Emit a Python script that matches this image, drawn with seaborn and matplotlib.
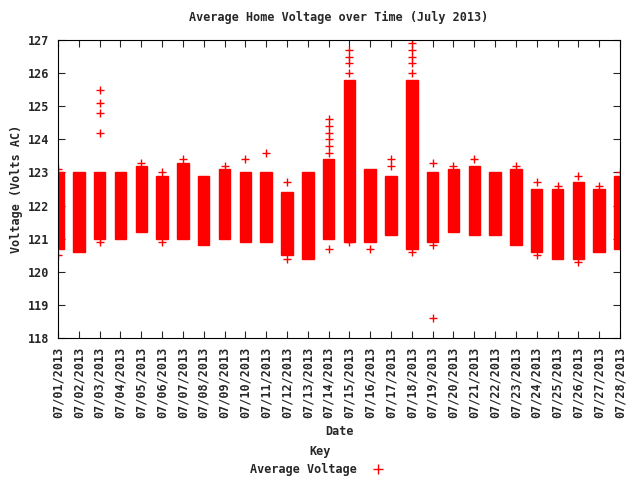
import matplotlib
matplotlib.use("Agg")
import matplotlib.pyplot as plt
import seaborn as sns
import pandas as pd
from matplotlib.lines import Line2D

dates = ["07/%02d/2013" % d for d in range(1, 29)]
low = [120.7,120.6,121.0,121.0,121.2,121.0,121.0,120.8,121.0,120.9,120.9,120.5,120.4,121.0,
       120.9,120.9,121.1,120.7,120.9,121.2,121.1,121.1,120.8,120.6,120.4,120.4,120.6,120.7]
high = [123.0,123.0,123.0,123.0,123.2,122.9,123.3,122.9,123.1,123.0,123.0,122.4,123.0,123.4,
        125.8,123.1,122.9,125.8,123.0,123.1,123.2,123.0,123.1,122.5,122.5,122.7,122.5,122.9]
out_day = [0,0,2,2,2,2,2,4,5,5,6,8,9,10,11,11,13,13,13,13,13,13,13,14,14,14,14,14,15,16,16,
           17,17,17,17,17,17,18,18,18,19,20,22,23,23,24,25,25,26,27]
out_val = [120.5,123.1,124.2,124.8,125.1,125.5,120.9,123.3,120.9,123.0,123.4,123.2,123.4,123.6,
           122.7,120.4,123.6,123.8,124.0,124.2,124.4,124.6,120.7,126.0,126.3,126.5,126.7,120.9,
           120.7,123.2,123.4,126.0,126.3,126.5,126.7,126.9,120.6,123.3,118.6,120.8,123.2,123.4,
           123.2,122.7,120.5,122.6,122.9,120.3,122.6,123.0]

sns.set_style("ticks")
fig = plt.figure(figsize=(6.4, 4.8), dpi=100)
ax = fig.add_axes([58/640, 1-338/480, 562/640, 298/480])
mono = "DejaVu Sans Mono"
fp = {"family": mono, "size": 8.5, "weight": "bold"}
x = list(range(len(dates)))
ax.bar(x, [h-l for h, l in zip(high, low)], bottom=low, width=0.55, color="red", edgecolor="red")
df = pd.DataFrame({"x": out_day, "v": out_val})
sns.scatterplot(data=df, x="x", y="v", marker="+", color="red", s=40, linewidth=1, ax=ax, legend=False)
ax.set_xlim(0, 27)
ax.set_ylim(118, 127)
ax.set_xticks(x)
ax.set_xticklabels(dates, rotation=90, fontdict=fp)
ax.set_yticks(range(118, 128))
ax.set_yticklabels([str(v) for v in range(118, 128)], fontdict=fp)
ax.tick_params(direction="in", top=True, right=True, length=5, pad=6)
for s in ax.spines.values():
    s.set_visible(True); s.set_color("black"); s.set_linewidth(0.8)
ax.set_xlabel("Date", fontdict=fp, labelpad=5)
ax.set_ylabel("Voltage (Volts AC)", fontdict=fp)
ax.set_title("Average Home Voltage over Time (July 2013)", fontdict=fp, pad=14)
h = Line2D([], [], color="red", marker="+", linestyle="None", markersize=7)
fig.legend([h], ["Average Voltage"], title="Key", loc="lower center", bbox_to_anchor=(0.5, 0.0),
           frameon=False, prop={"family": mono, "size": 8.5, "weight": "bold"},
           title_fontproperties={"family": mono, "size": 8.5, "weight": "bold"},
           markerfirst=False, handletextpad=0.8, borderaxespad=0.2, borderpad=0.1)
fig.savefig("out.png", dpi=100)
